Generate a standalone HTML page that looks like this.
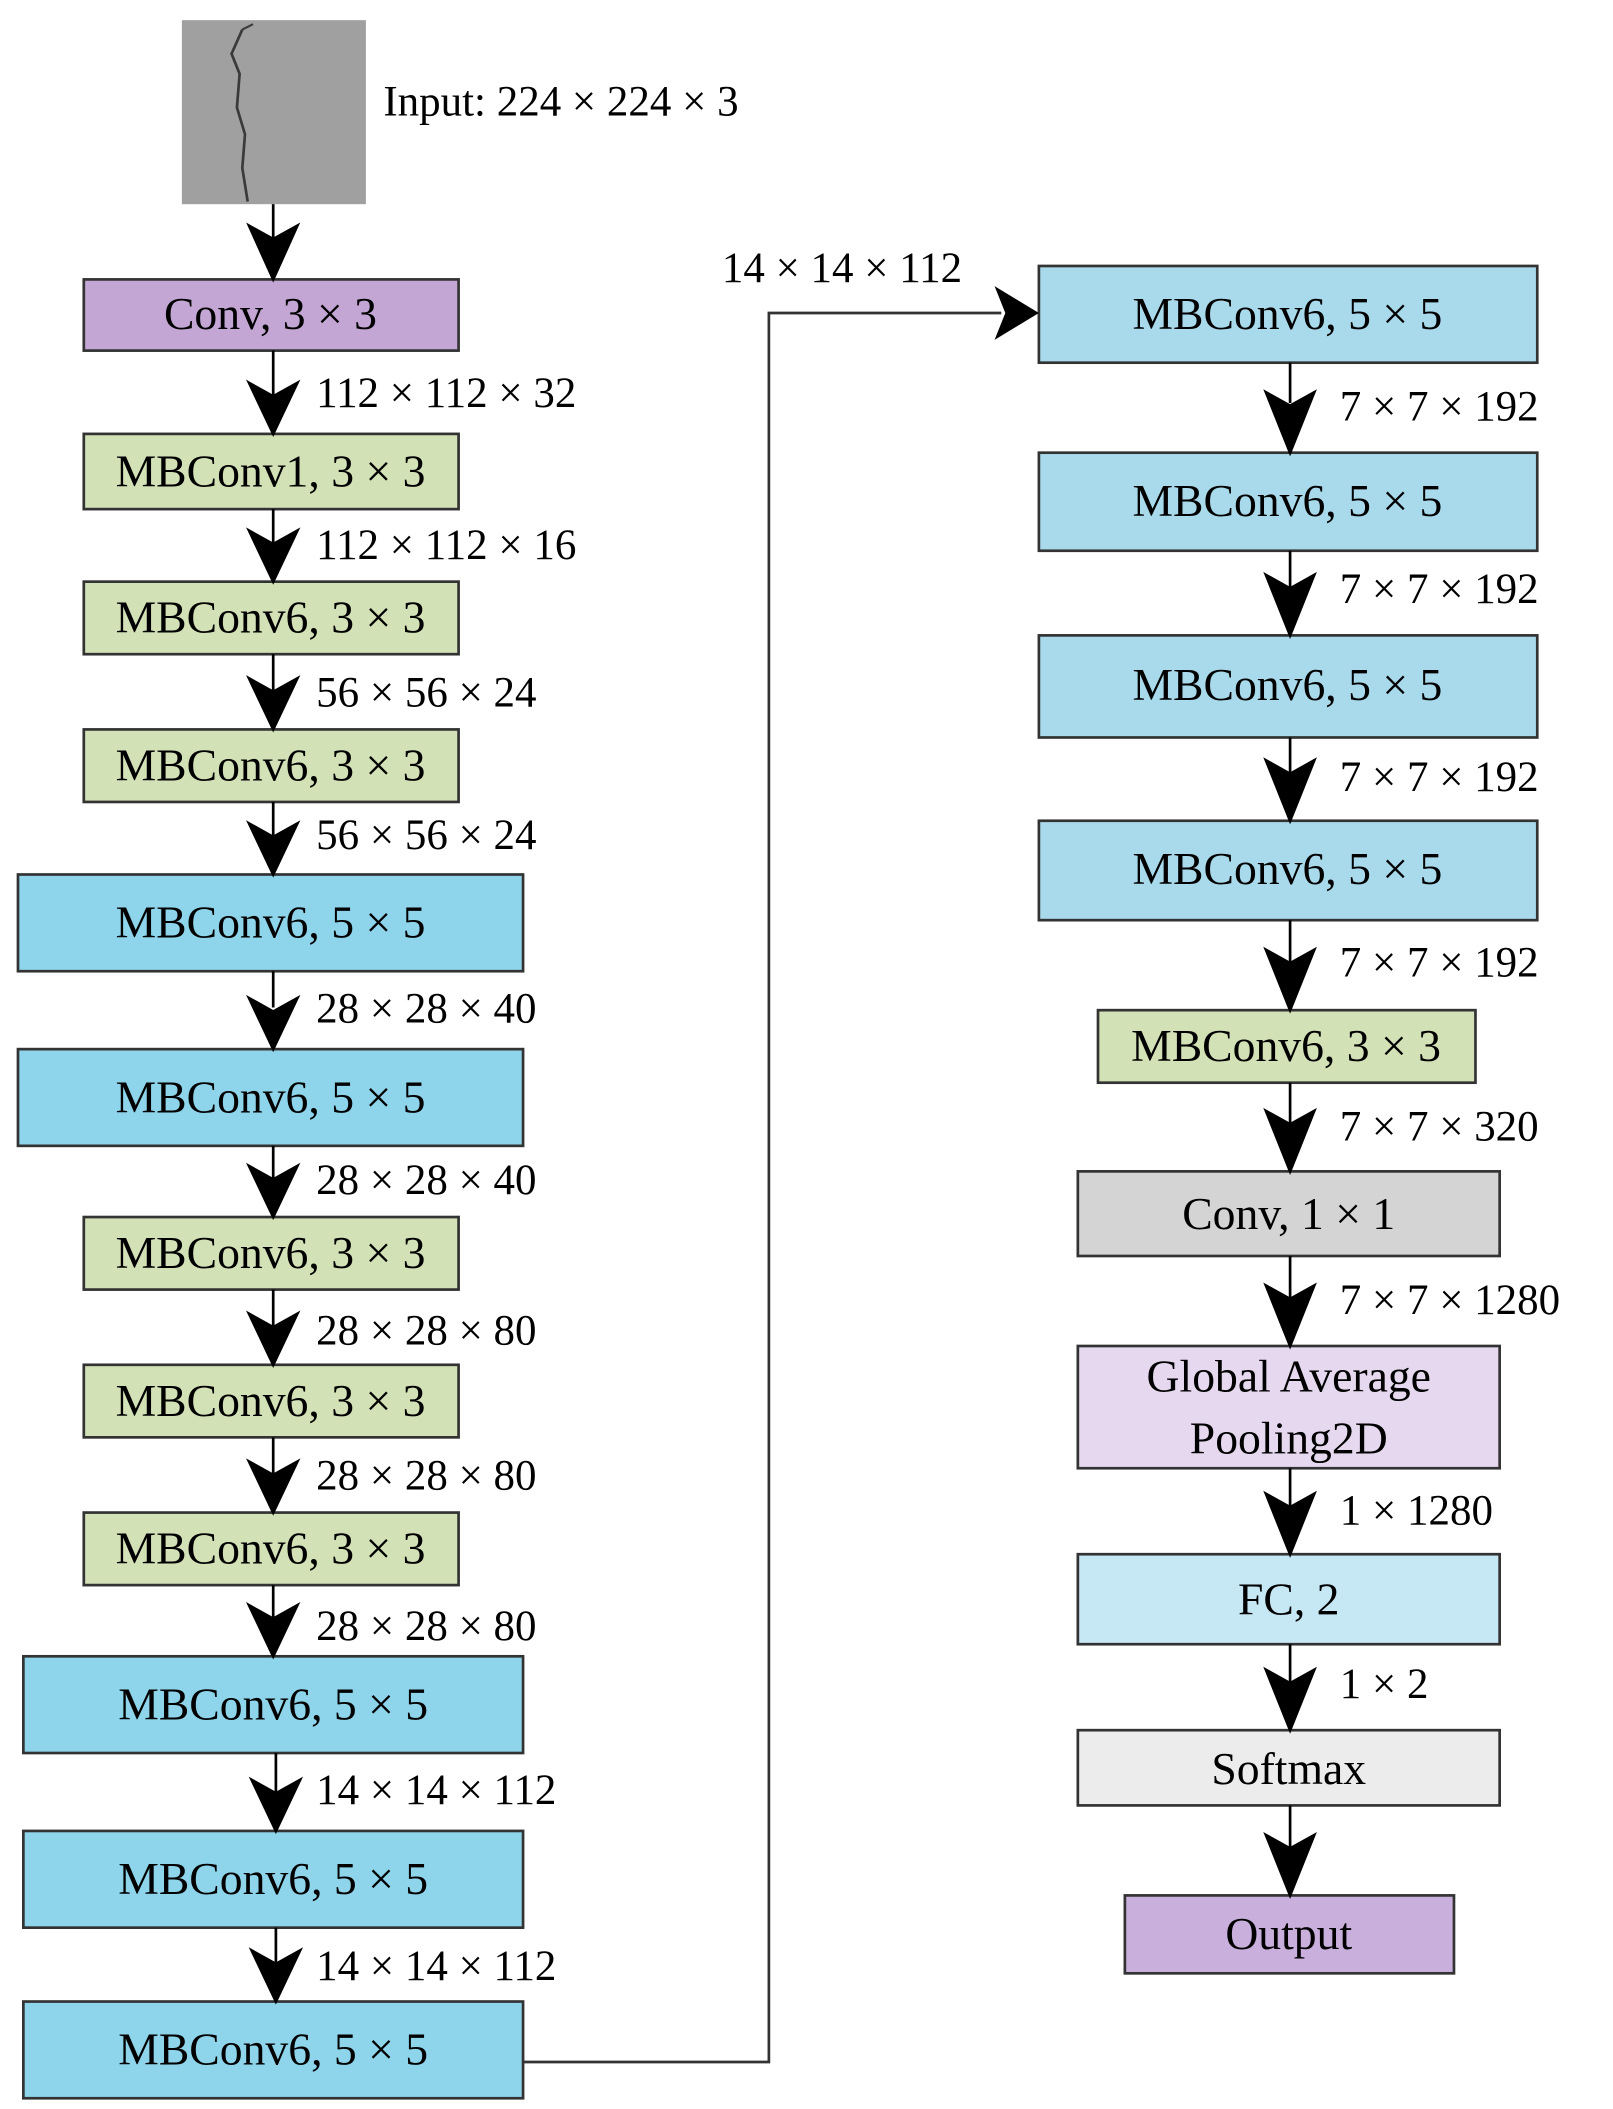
<!DOCTYPE html>
<html><head><meta charset="utf-8"><style>html,body{margin:0;padding:0;background:#fff}svg{display:block}</style></head>
<body>
<svg width="1613" height="2109" viewBox="0 0 1200 1570" xmlns="http://www.w3.org/2000/svg" font-family="Liberation Serif, serif">
<defs>
<marker id="ah" markerWidth="10" markerHeight="10" refX="10" refY="5" orient="auto" markerUnits="userSpaceOnUse"><path d="M0,0 L10,5 L0,10z" fill="#000"/></marker>
</defs>
<rect width="1200" height="1570" fill="#fff"/>
<!-- input image -->
<rect x="135" y="15" width="137" height="137" fill="#a0a0a0"/>
<path d="M180,22 L172,40 L178,55 L176,80 L182,100 L180,125 L184,150" stroke="#3a3a3a" stroke-width="2" fill="none"/>
<path d="M180,22 L188,18" stroke="#3a3a3a" stroke-width="1.5" fill="none"/>
<text x="285" y="86" font-size="32">Input: 224 × 224 × 3</text>
<g id="arrows" fill="#000" stroke="#000">
</g>
<g stroke="#333" stroke-width="2" font-size="34" text-anchor="middle">
<!-- left column -->
<rect x="62" y="208" width="279" height="53" fill="#c3a6d4"/><text x="201" y="245" stroke="none">Conv, 3 × 3</text>
<rect x="62" y="323" width="279" height="56" fill="#d3e1b6"/><text x="201" y="362" stroke="none">MBConv1, 3 × 3</text>
<rect x="62" y="433" width="279" height="54" fill="#d3e1b6"/><text x="201" y="471" stroke="none">MBConv6, 3 × 3</text>
<rect x="62" y="543" width="279" height="54" fill="#d3e1b6"/><text x="201" y="581" stroke="none">MBConv6, 3 × 3</text>
<rect x="13" y="651" width="376" height="72" fill="#8ed4ea"/><text x="201" y="698" stroke="none">MBConv6, 5 × 5</text>
<rect x="13" y="781" width="376" height="72" fill="#8ed4ea"/><text x="201" y="828" stroke="none">MBConv6, 5 × 5</text>
<rect x="62" y="906" width="279" height="54" fill="#d3e1b6"/><text x="201" y="944" stroke="none">MBConv6, 3 × 3</text>
<rect x="62" y="1016" width="279" height="54" fill="#d3e1b6"/><text x="201" y="1054" stroke="none">MBConv6, 3 × 3</text>
<rect x="62" y="1126" width="279" height="54" fill="#d3e1b6"/><text x="201" y="1164" stroke="none">MBConv6, 3 × 3</text>
<rect x="17" y="1233" width="372" height="72" fill="#8ed4ea"/><text x="203" y="1280" stroke="none">MBConv6, 5 × 5</text>
<rect x="17" y="1363" width="372" height="72" fill="#8ed4ea"/><text x="203" y="1410" stroke="none">MBConv6, 5 × 5</text>
<rect x="17" y="1490" width="372" height="72" fill="#8ed4ea"/><text x="203" y="1537" stroke="none">MBConv6, 5 × 5</text>
<!-- right column -->
<rect x="773" y="198" width="371" height="72" fill="#a9daec"/><text x="958" y="245" stroke="none">MBConv6, 5 × 5</text>
<rect x="773" y="337" width="371" height="73" fill="#a9daec"/><text x="958" y="384" stroke="none">MBConv6, 5 × 5</text>
<rect x="773" y="473" width="371" height="76" fill="#a9daec"/><text x="958" y="521" stroke="none">MBConv6, 5 × 5</text>
<rect x="773" y="611" width="371" height="74" fill="#a9daec"/><text x="958" y="658" stroke="none">MBConv6, 5 × 5</text>
<rect x="817" y="752" width="281" height="54" fill="#d3e1b6"/><text x="957" y="790" stroke="none">MBConv6, 3 × 3</text>
<rect x="802" y="872" width="314" height="63" fill="#d4d4d4"/><text x="959" y="915" stroke="none">Conv, 1 × 1</text>
<rect x="802" y="1002" width="314" height="91" fill="#e6d9ef"/><text x="959" y="1036" stroke="none">Global Average</text><text x="959" y="1082" stroke="none">Pooling2D</text>
<rect x="802" y="1157" width="314" height="67" fill="#c6e7f4"/><text x="959" y="1202" stroke="none">FC, 2</text>
<rect x="802" y="1288" width="314" height="56" fill="#ececec"/><text x="959" y="1328" stroke="none">Softmax</text>
<rect x="837" y="1411" width="245" height="58" fill="#c9afdc"/><text x="959" y="1451" stroke="none">Output</text>
</g>
<!-- connector -->
<path d="M389,1535 L572,1535 L572,233 L745,233" stroke="#333" stroke-width="2" fill="none"/>
<path d="M740,213 L773,233 L740,253 L748,233z" fill="#000"/>
<text x="537" y="210" font-size="32">14 × 14 × 112</text>
<!-- arrows -->
<g stroke="#000" stroke-width="2" fill="#000">
<!-- left x=203 -->
<line x1="203" y1="152" x2="203" y2="180"/><path d="M185,168 L203,208 L221,168 L203,178z"/>
<line x1="203" y1="261" x2="203" y2="295"/><path d="M185,285 L203,323 L221,285 L203,295z"/>
<line x1="203" y1="379" x2="203" y2="405"/><path d="M185,395 L203,433 L221,395 L203,405z"/>
<line x1="203" y1="487" x2="203" y2="515"/><path d="M185,505 L203,543 L221,505 L203,515z"/>
<line x1="203" y1="597" x2="203" y2="623"/><path d="M185,613 L203,651 L221,613 L203,623z"/>
<line x1="203" y1="723" x2="203" y2="750"/><path d="M185,743 L203,781 L221,743 L203,753z"/>
<line x1="203" y1="853" x2="203" y2="878"/><path d="M185,868 L203,906 L221,868 L203,878z"/>
<line x1="203" y1="960" x2="203" y2="988"/><path d="M185,978 L203,1016 L221,978 L203,988z"/>
<line x1="203" y1="1070" x2="203" y2="1098"/><path d="M185,1088 L203,1126 L221,1088 L203,1098z"/>
<line x1="203" y1="1180" x2="203" y2="1205"/><path d="M185,1195 L203,1233 L221,1195 L203,1205z"/>
<line x1="205" y1="1305" x2="205" y2="1335"/><path d="M187,1325 L205,1363 L223,1325 L205,1335z"/>
<line x1="205" y1="1435" x2="205" y2="1462"/><path d="M187,1452 L205,1490 L223,1452 L205,1462z"/>
<!-- right x=960 -->
<line x1="960" y1="270" x2="960" y2="300"/><path d="M942,292 L960,337 L978,292 L960,302z"/>
<line x1="960" y1="410" x2="960" y2="438"/><path d="M942,428 L960,473 L978,428 L960,438z"/>
<line x1="960" y1="549" x2="960" y2="576"/><path d="M942,566 L960,611 L978,566 L960,576z"/>
<line x1="960" y1="685" x2="960" y2="717"/><path d="M942,707 L960,752 L978,707 L960,717z"/>
<line x1="960" y1="806" x2="960" y2="837"/><path d="M942,827 L960,872 L978,827 L960,837z"/>
<line x1="960" y1="935" x2="960" y2="967"/><path d="M942,957 L960,1002 L978,957 L960,967z"/>
<line x1="960" y1="1093" x2="960" y2="1122"/><path d="M942,1112 L960,1157 L978,1112 L960,1122z"/>
<line x1="960" y1="1224" x2="960" y2="1253"/><path d="M942,1243 L960,1288 L978,1243 L960,1253z"/>
<line x1="960" y1="1344" x2="960" y2="1376"/><path d="M942,1366 L960,1411 L978,1366 L960,1376z"/>
</g>
<g font-size="32">
<text x="235" y="303">112 × 112 × 32</text>
<text x="235" y="416">112 × 112 × 16</text>
<text x="235" y="526">56 × 56 × 24</text>
<text x="235" y="632">56 × 56 × 24</text>
<text x="235" y="761">28 × 28 × 40</text>
<text x="235" y="889">28 × 28 × 40</text>
<text x="235" y="1001">28 × 28 × 80</text>
<text x="235" y="1109">28 × 28 × 80</text>
<text x="235" y="1221">28 × 28 × 80</text>
<text x="235" y="1343">14 × 14 × 112</text>
<text x="235" y="1474">14 × 14 × 112</text>
<text x="997" y="313">7 × 7 × 192</text>
<text x="997" y="449">7 × 7 × 192</text>
<text x="997" y="589">7 × 7 × 192</text>
<text x="997" y="727">7 × 7 × 192</text>
<text x="997" y="849">7 × 7 × 320</text>
<text x="997" y="978">7 × 7 × 1280</text>
<text x="997" y="1135">1 × 1280</text>
<text x="997" y="1264">1 × 2</text>
</g>
</svg>
</body></html>
